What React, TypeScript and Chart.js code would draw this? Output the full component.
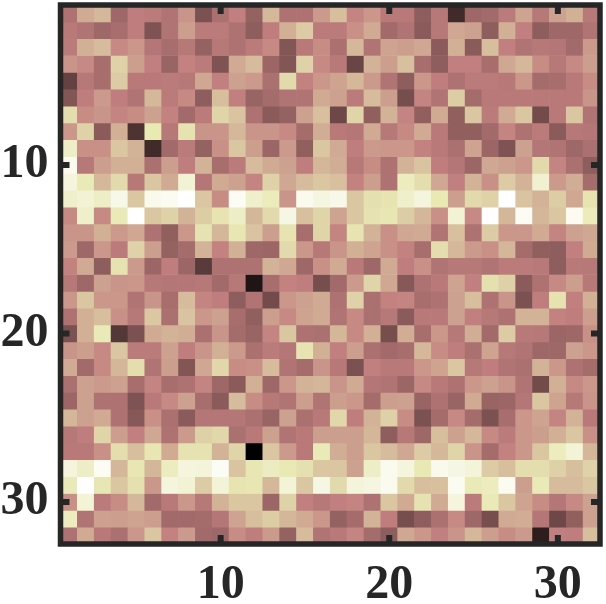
import React, { useEffect, useRef } from "react";
import { Chart, registerables } from "chart.js";

Chart.register(...registerables);

const columns = Array.from({ length: 32 }, (_, i) => String(i + 1));
const axisTicks = [10, 20, 30];

const row01 = [30,50,55,25,36,35,31,43,15,29,37,22,55,30,30,45,57,39,44,34,34,20,33,4,25,26,35,48,33,47,52,34];
const row02 = [34,31,25,28,36,16,31,46,35,35,30,20,36,52,62,35,35,42,50,26,31,19,33,49,47,20,52,37,20,25,25,31];
const row03 = [35,52,56,40,44,32,28,33,22,33,30,35,40,17,34,41,29,55,31,48,46,49,19,52,19,57,37,31,33,32,26,45];
const row04 = [43,40,28,65,46,37,23,38,35,16,50,56,24,17,65,40,34,11,53,46,58,28,20,37,37,28,49,55,41,33,40,46];
const row05 = [10,33,28,62,34,34,35,33,49,37,47,45,29,68,38,44,48,55,45,31,20,44,36,30,35,35,33,44,27,28,34,41];
const row06 = [17,36,45,36,31,55,35,40,20,57,37,23,27,31,31,50,47,35,56,46,14,39,31,63,27,34,34,34,34,34,34,43];
const row07 = [70,41,43,39,41,47,38,26,35,66,59,30,19,22,47,58,12,66,21,53,39,21,50,21,60,35,50,60,13,34,60,31];
const row08 = [44,65,19,52,6,75,33,72,43,43,55,43,43,40,27,51,34,32,50,33,40,50,34,21,21,26,39,30,35,19,33,32];
const row09 = [80,42,42,60,53,4,26,35,22,42,60,46,24,45,21,60,50,36,45,44,44,38,34,29,48,24,16,47,32,31,25,29];
const row10 = [94,33,46,52,52,29,46,36,53,28,35,56,50,47,36,54,51,33,41,30,53,59,36,32,24,49,47,44,68,39,29,20];
const row11 = [88,76,55,68,33,60,50,85,32,50,47,39,65,49,56,60,58,38,46,30,78,70,49,37,53,42,62,53,84,45,51,27];
const row12 = [82,85,80,92,60,93,95,100,60,41,96,82,77,43,94,89,92,60,71,73,82,88,75,46,68,65,100,59,53,63,49,73];
const row13 = [40,82,40,76,100,60,65,53,63,73,80,54,68,90,58,66,48,60,72,74,63,54,42,85,40,100,54,96,54,60,95,77];
const row14 = [43,43,52,45,49,30,21,44,72,54,74,59,46,73,28,66,39,73,53,42,49,50,31,58,30,62,44,44,50,39,47,49];
const row15 = [45,25,44,35,65,46,22,27,53,38,52,25,24,68,44,33,43,52,48,42,38,28,70,55,45,42,54,27,21,20,37,50];
const row16 = [38,50,20,72,45,24,36,24,8,30,30,30,53,49,25,42,50,34,25,50,36,42,31,33,33,31,35,35,34,20,34,33];
const row17 = [33,25,47,43,44,33,32,32,33,26,33,1,28,38,36,14,26,45,66,49,18,30,34,48,37,71,64,19,30,40,46,33];
const row18 = [44,60,44,44,31,43,28,56,39,36,20,31,13,44,47,50,30,65,29,38,39,28,30,47,57,30,43,15,36,72,37,52];
const row19 = [30,52,57,42,33,61,29,59,44,47,28,21,46,40,48,50,31,40,29,33,19,34,34,47,37,33,30,53,53,38,36,46];
const row20 = [15,52,76,7,15,50,53,51,29,43,27,23,39,60,30,29,54,40,52,14,51,28,44,33,51,26,62,34,33,24,25,42];
const row21 = [43,46,40,60,35,35,47,36,43,52,45,29,35,32,73,52,37,46,29,26,28,55,41,36,29,48,33,31,25,25,47,44];
const row22 = [50,26,40,54,70,31,46,17,49,67,41,42,56,31,27,43,33,15,37,34,34,44,48,60,33,36,31,29,53,44,30,27];
const row23 = [29,47,45,47,28,39,28,30,39,25,19,52,25,44,53,54,43,50,32,31,24,40,34,30,44,47,43,31,13,52,40,44];
const row24 = [24,47,30,30,16,34,40,47,28,19,56,41,33,31,46,31,46,44,27,46,47,23,30,23,50,23,24,32,60,48,33,43];
const row25 = [54,47,50,30,18,42,29,19,32,32,32,29,23,47,29,34,67,36,53,64,41,15,27,40,27,15,28,44,48,39,53,34];
const row26 = [33,36,66,46,37,49,30,45,64,67,29,34,47,31,34,46,46,46,54,20,33,25,57,47,55,40,35,44,46,52,60,42];
const row27 = [34,34,42,70,57,74,50,72,72,53,66,0,60,45,34,76,51,46,60,56,49,62,55,66,43,27,38,44,60,78,86,54];
const row28 = [88,80,96,54,74,54,78,88,87,97,59,74,79,75,71,60,60,47,80,94,88,75,93,90,87,62,57,70,70,64,57,65];
const row29 = [76,100,74,60,71,44,88,85,62,86,73,74,55,86,60,90,68,87,89,94,68,57,58,95,76,78,95,46,76,56,56,60];
const row30 = [42,86,35,41,55,26,34,44,33,53,60,60,24,65,37,33,37,39,30,60,50,72,50,88,35,76,60,48,41,32,40,47];
const row31 = [78,31,47,46,48,46,26,26,27,32,48,57,63,54,50,44,22,27,53,36,14,20,29,40,25,14,50,51,32,12,21,47];
const row32 = [30,50,34,29,44,60,38,45,26,25,41,36,45,22,56,31,34,39,27,20,49,44,37,43,55,46,41,45,2,37,36,57];

const rows = [row01,row02,row03,row04,row05,row06,row07,row08,row09,row10,row11,row12,row13,row14,row15,row16,
  row17,row18,row19,row20,row21,row22,row23,row24,row25,row26,row27,row28,row29,row30,row31,row32];

// MATLAB "pink" colormap
function pink(v: number): string {
  const x = v / 100;
  const clamp = (t: number) => Math.max(0, Math.min(1, t));
  const r = clamp(x / 0.375);
  const g = clamp((x - 0.375) / 0.375);
  const b = clamp((x - 0.75) / 0.25);
  const c = (h: number) => Math.round(255 * Math.sqrt((2 * x + h) / 3));
  return `rgb(${c(r)},${c(g)},${c(b)})`;
}

const INK = "#262626";
const FRAME = 5.5;
const TICK_LEN = 9;
const TICK_W = 6;

const framePlugin = {
  id: "frame",
  afterDatasetsDraw(chart: any) {
    const { ctx, chartArea: a, scales } = chart;
    ctx.save();
    ctx.strokeStyle = INK;
    ctx.lineWidth = TICK_W;
    axisTicks.forEach((t) => {
      const px = scales.x.getPixelForValue(t - 1);
      const py = scales.y.getPixelForValue(t);
      ctx.beginPath();
      ctx.moveTo(px, a.top); ctx.lineTo(px, a.top + TICK_LEN);
      ctx.moveTo(px, a.bottom); ctx.lineTo(px, a.bottom - TICK_LEN);
      ctx.moveTo(a.left, py); ctx.lineTo(a.left + TICK_LEN, py);
      ctx.moveTo(a.right, py); ctx.lineTo(a.right - TICK_LEN, py);
      ctx.stroke();
    });
    ctx.lineWidth = FRAME;
    ctx.strokeRect(a.left, a.top, a.right - a.left, a.bottom - a.top);
    ctx.restore();
  },
};

export default function App() {
  const ref = useRef<HTMLCanvasElement>(null);
  useEffect(() => {
    const font = { family: '"Liberation Serif", serif', size: 48, weight: "bold" as const };
    const chart = new Chart(ref.current!, {
      type: "bar",
      data: {
        labels: columns,
        datasets: rows.map((vals, i) => ({
          label: `row ${i + 1}`,
          data: vals.map(() => [i + 0.5, i + 1.5]),
          backgroundColor: vals.map(pink),
          borderWidth: 0,
          grouped: false,
          barPercentage: 1,
          categoryPercentage: 1,
        })),
      } as any,
      options: {
        responsive: false,
        animation: false,
        layout: { autoPadding: false, padding: { left: 0, right: 6, top: 5, bottom: 0 } },
        plugins: { legend: { display: false }, tooltip: { enabled: false } },
        scales: {
          x: {
            type: "category",
            offset: true,
            grid: { display: false, drawTicks: false },
            border: { display: false },
            afterFit: (s: any) => { s.height = 60; s.paddingLeft = 0; s.paddingRight = 0; },
            ticks: {
              autoSkip: false,
              maxRotation: 0,
              padding: 13,
              color: INK,
              font,
              callback: (_v: any, i: number) => (axisTicks.includes(i + 1) ? String(i + 1) : ""),
            },
          },
          y: {
            type: "linear",
            reverse: true,
            min: 0.5,
            max: 32.5,
            grid: { display: false, drawTicks: false },
            border: { display: false },
            afterFit: (s: any) => { s.width = 60.5; s.paddingTop = 0; s.paddingBottom = 0; },
            afterBuildTicks: (s: any) => { s.ticks = axisTicks.map((value) => ({ value })); },
            ticks: { padding: 12, color: INK, font },
          },
        },
      } as any,
      plugins: [framePlugin],
    });
    return () => chart.destroy();
  }, []);
  return (
    <div style={{ position: "absolute", left: 0, top: 0, width: 606, height: 604 }}>
      <canvas ref={ref} width={606} height={604} style={{ display: "block" }} />
    </div>
  );
}
